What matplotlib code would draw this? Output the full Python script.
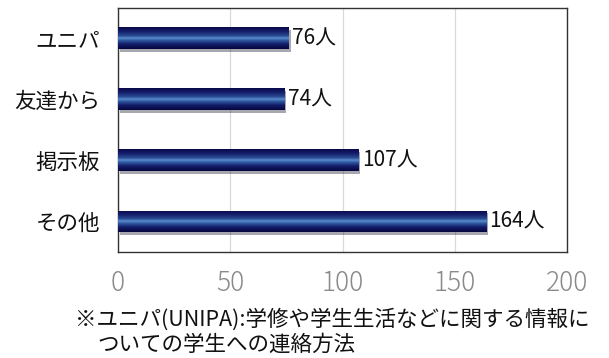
import numpy as np
import matplotlib
matplotlib.use("Agg")
import matplotlib.pyplot as plt
from matplotlib.colors import LinearSegmentedColormap
import matplotlib.patheffects as pe

plt.rcParams['font.family'] = ['Noto Sans CJK JP', 'DejaVu Sans']

categories = ["その他", "掲示板", "友達から", "ユニパ"]
counts = [164, 107, 74, 76]
xticks = [0, 50, 100, 150, 200]
note_lines = ["※ユニパ(UNIPA):学修や学生生活などに関する情報に",
              "ついての学生への連絡方法"]

BAR_CMAP = LinearSegmentedColormap.from_list(
    "tube",
    [(0.0, "#06063f"), (0.22, "#141d6a"), (0.40, "#2f5aa2"),
     (0.50, "#5b8fcf"), (0.60, "#2a4c93"), (0.80, "#161f6c"),
     (1.0, "#08094a")])

fig = plt.figure(figsize=(6.09, 3.58), dpi=100)
ax = fig.add_axes([0.194, 0.296, 0.737, 0.682])

y = np.arange(len(categories))
bars = ax.barh(y, counts, height=0.36, color="#10155e", zorder=3,
               path_effects=[pe.SimplePatchShadow(offset=(1.5, -2), alpha=0.35),
                             pe.Normal()])

grad = np.linspace(0, 1, 64).reshape(-1, 1)
for b in bars:
    x0, y0, w, h = b.get_x(), b.get_y(), b.get_width(), b.get_height()
    im = ax.imshow(grad, cmap=BAR_CMAP, aspect="auto", zorder=4,
                   extent=[x0, x0 + w, y0 + h, y0], interpolation="bilinear")
    im.set_clip_path(b)

for yi, v in zip(y, counts):
    ax.text(v + 1.5, yi, f"{v}人", va="center", ha="left", fontsize=15,
            color="#111111", zorder=5)

ax.set_xlim(0, 200)
ax.set_ylim(-0.5, len(categories) - 0.5)
ax.set_xticks(xticks)
ax.set_xticklabels([str(t) for t in xticks], fontsize=19, color="#8a8a8a",
                   fontweight="light")
ax.set_yticks(y)
ax.set_yticklabels(categories, fontsize=15.5, color="#111111")
ax.tick_params(axis="both", length=0)
ax.tick_params(axis="x", pad=12)
ax.tick_params(axis="y", pad=13)
ax.grid(axis="x", color="#d9d9d9", linewidth=0.9, zorder=0)
ax.set_axisbelow(True)
for s in ax.spines.values():
    s.set_color("#333333")
    s.set_linewidth(1.0)

fig.text(75 / 609, 1 - 320 / 358, note_lines[0], fontsize=15.5, color="#111111",
         ha="left", va="center")
fig.text(97 / 609, 1 - 345 / 358, note_lines[1], fontsize=15.5, color="#111111",
         ha="left", va="center")

fig.savefig("out.png", dpi=100)
